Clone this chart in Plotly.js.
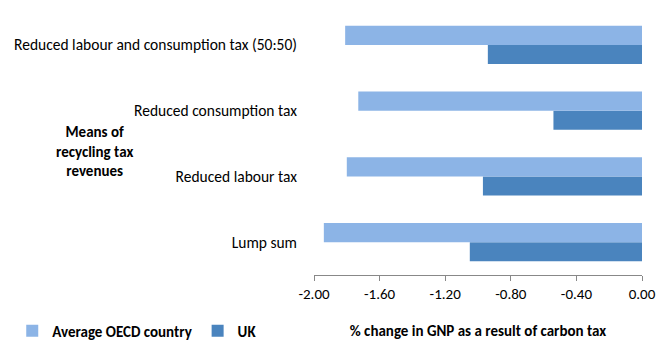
<!DOCTYPE html>
<html>
<head>
<meta charset="utf-8">
<script src="https://cdn.plot.ly/plotly-3.0.1.min.js"></script>
<style>html,body{margin:0;padding:0;background:#fff;}#chart{width:667px;height:363px;}</style>
</head>
<body>
<div id="chart"></div>
<script>
const categories = ["Lump sum", "Reduced labour tax", "Reduced consumption tax", "Reduced labour and consumption tax (50:50)"];
const oecdValues = [-1.94, -1.80, -1.73, -1.81];
const ukValues = [-1.05, -0.97, -0.54, -0.94];
const xTickVals = [-2.0, -1.6, -1.2, -0.8, -0.4, 0.0];
const xTickText = ["-2.00", "-1.60", "-1.20", "-0.80", "-0.40", "0.00"];
const boundaryVals = [-0.5, 0.5, 1.5, 2.5, 3.5];

const fontFam = "Carlito, 'Liberation Sans', Arial, sans-serif";

const traces = [
  {type: "bar", orientation: "h", name: "UK", y: categories, x: ukValues,
   marker: {color: "#4A84BE", line: {width: 0}}, hoverinfo: "x"},
  {type: "bar", orientation: "h", name: "Average OECD country", y: categories, x: oecdValues,
   marker: {color: "#8CB4E6", line: {width: 0}}, hoverinfo: "x"}
];

const layout = {
  width: 667, height: 363,
  margin: {l: 312, r: 25, t: 12, b: 88},
  paper_bgcolor: "#fff", plot_bgcolor: "#fff",
  barmode: "group", bargap: 0.42, bargroupgap: 0,
  font: {family: fontFam, size: 15, color: "#000"},
  showlegend: true,
  legend: {orientation: "h", traceorder: "reversed", x: -0.92, y: -0.15, xanchor: "left", yanchor: "top",
           font: {family: fontFam, size: 15, color: "#000", weight: "bold"}, itemwidth: 30, tracegroupgap: 0},
  xaxis: {range: [-2.0, 0.0], tickvals: xTickVals, ticktext: xTickText, ticks: "outside", ticklen: 5,
          tickcolor: "#888", showline: true, linecolor: "#888", linewidth: 1, showgrid: false, zeroline: false,
          tickfont: {size: 15}, mirror: false, automargin: false,
          title: {text: "<b>% change in GNP as a result of carbon tax</b>", font: {size: 15}, standoff: 23}},
  yaxis: {type: "category", range: [-0.5, 3.5], ticks: "", showline: false, showgrid: false, zeroline: false,
          ticklabelstandoff: 16, tickfont: {size: 15.5}, automargin: false},
  yaxis2: {overlaying: "y", side: "right", anchor: "x", range: [-0.5, 3.5], tickvals: boundaryVals,
           ticks: "inside", ticklen: 4, tickcolor: "#888", showticklabels: false, showline: true,
           linecolor: "#888", linewidth: 1, showgrid: false, zeroline: false, automargin: false},
  annotations: [
    {text: "<b>Means of<br>recycling tax<br>revenues</b>", xref: "paper", yref: "paper",
     x: -0.669, y: 0.468, xanchor: "center", yanchor: "middle", showarrow: false,
     font: {family: fontFam, size: 15, color: "#000"}, align: "center"}
  ]
};

Plotly.newPlot("chart", traces, layout, {displayModeBar: false, staticPlot: true});
</script>
</body>
</html>
